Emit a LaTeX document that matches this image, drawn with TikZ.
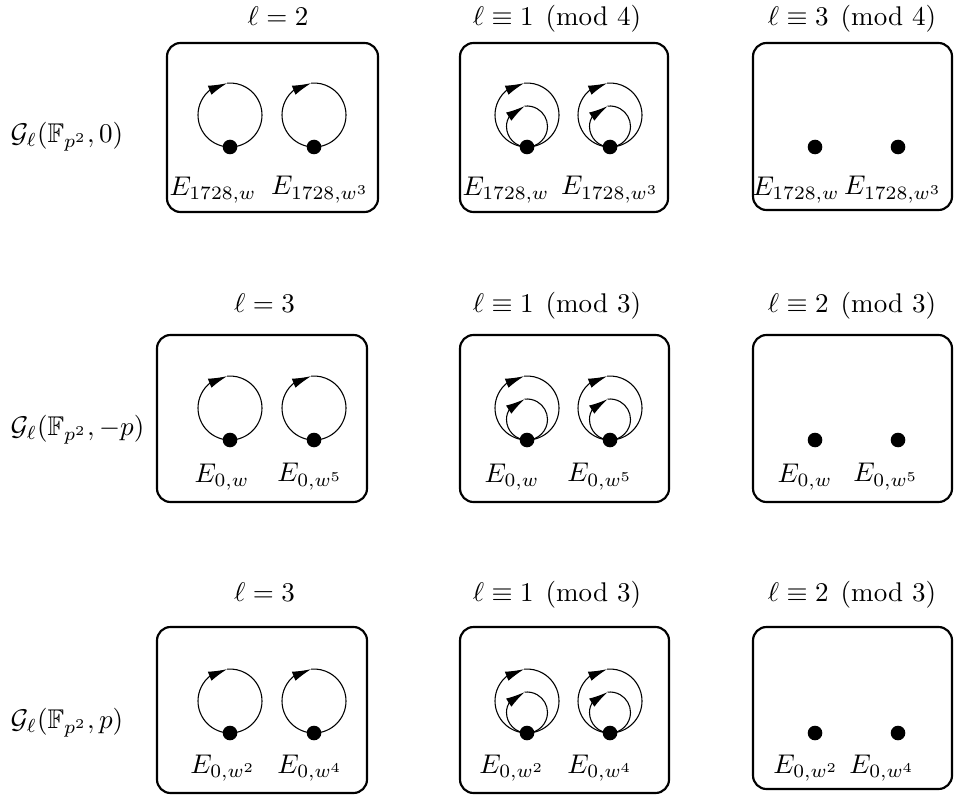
\documentclass[tikz,border=0pt]{standalone}
\usepackage{amsmath, amssymb}
\usetikzlibrary{arrows.meta,bending}

\begin{document}
\begin{tikzpicture}[x=1.3cm,y=1.3cm,
    box/.style={draw,thick,rounded corners=5pt},
    dot/.style={circle,fill,inner sep=0pt,minimum size=5.4pt},
    loopline/.style={thin},
    looparrow/.style={thin,-{Latex[length=7pt,width=3.6pt,flex=1]}}]
        \useasboundingbox (0,0) rectangle (9.54,7.97);
        \def\ro{0.32}
        \def\ri{0.205}
        %Row labels
        \node[anchor=west] (ga) at (0.01,6.60) {$\mathcal{G}_\ell(\mathbb{F}_{p^2},0)$};
        \node[anchor=west] (gb) at (0.01,3.67) {$\mathcal{G}_\ell(\mathbb{F}_{p^2},-p)$};
        \node[anchor=west] (gc) at (0.01,0.74) {$\mathcal{G}_\ell(\mathbb{F}_{p^2},p)$};
        %Titles
        \node[anchor=base] (ta1) at (2.78,7.71) {$\ell=2$};
        \node[anchor=base] (ta2) at (5.57,7.71) {$\ell\equiv 1 \pmod 4$};
        \node[anchor=base] (ta3) at (8.52,7.71) {$\ell\equiv 3 \pmod 4$};
        \node[anchor=base] (tb1) at (2.645,4.85) {$\ell=3$};
        \node[anchor=base] (tb2) at (5.57,4.85) {$\ell\equiv 1 \pmod 3$};
        \node[anchor=base] (tb3) at (8.52,4.85) {$\ell\equiv 2 \pmod 3$};
        \node[anchor=base] (tc1) at (2.645,1.96) {$\ell=3$};
        \node[anchor=base] (tc2) at (5.57,1.96) {$\ell\equiv 1 \pmod 3$};
        \node[anchor=base] (tc3) at (8.52,1.96) {$\ell\equiv 2 \pmod 3$};
        %Boxes
        \draw[box] (1.67,5.85) rectangle (3.78,7.54);
        \draw[box] (4.60,5.85) rectangle (6.68,7.54);
        \draw[box] (7.53,5.87) rectangle (9.52,7.54);
        \draw[box] (1.57,2.95) rectangle (3.67,4.62);
        \draw[box] (4.60,2.95) rectangle (6.69,4.62);
        \draw[box] (7.53,2.95) rectangle (9.52,4.62);
        \draw[box] (1.57,0.04) rectangle (3.67,1.70);
        \draw[box] (4.60,0.04) rectangle (6.69,1.70);
        \draw[box] (7.53,0.08) rectangle (9.52,1.70);
        %Curves
        \foreach \r/\y in {a/6.50,b/3.57,c/0.64}
          \foreach \i/\x in {1/2.30,2/3.14,3/5.27,4/6.10,5/8.15,6/8.98}
            \node[dot] (\r\i) at (\x,\y) {};
        %Loops
        \foreach \v in {a1,a2,b1,b2,c1,c2,a3,a4,b3,b4,c3,c4}{
          \draw[looparrow] (\v) arc[start angle=-90,end angle=-265,radius=\ro];
          \draw[loopline] (\v) arc[start angle=-90,end angle=95,radius=\ro];
        }
        \foreach \v in {a3,a4,b3,b4,c3,c4}{
          \draw[looparrow] (\v) arc[start angle=-90,end angle=-263,radius=\ri];
          \draw[loopline] (\v) arc[start angle=-90,end angle=97,radius=\ri];
        }
        %Labels
        \node (la1) at (2.13,6.07) {$E_{1728,w}$};
        \node (la2) at (3.20,6.07) {$E_{1728,w^3}$};
        \node (la3) at (5.06,6.07) {$E_{1728,w}$};
        \node (la4) at (6.10,6.07) {$E_{1728,w^3}$};
        \node (la5) at (7.96,6.07) {$E_{1728,w}$};
        \node (la6) at (8.93,6.07) {$E_{1728,w^3}$};
        \node (lb1) at (2.22,3.20) {$E_{0,w}$};
        \node (lb2) at (3.10,3.20) {$E_{0,w^5}$};
        \node (lb3) at (5.12,3.20) {$E_{0,w}$};
        \node (lb4) at (6.00,3.20) {$E_{0,w^5}$};
        \node (lb5) at (8.05,3.20) {$E_{0,w}$};
        \node (lb6) at (8.86,3.20) {$E_{0,w^5}$};
        \node (lc1) at (2.23,0.29) {$E_{0,w^2}$};
        \node (lc2) at (3.10,0.29) {$E_{0,w^4}$};
        \node (lc3) at (5.12,0.29) {$E_{0,w^2}$};
        \node (lc4) at (6.00,0.29) {$E_{0,w^4}$};
        \node (lc5) at (8.06,0.29) {$E_{0,w^2}$};
        \node (lc6) at (8.82,0.29) {$E_{0,w^4}$};
      \end{tikzpicture}
\end{document}
